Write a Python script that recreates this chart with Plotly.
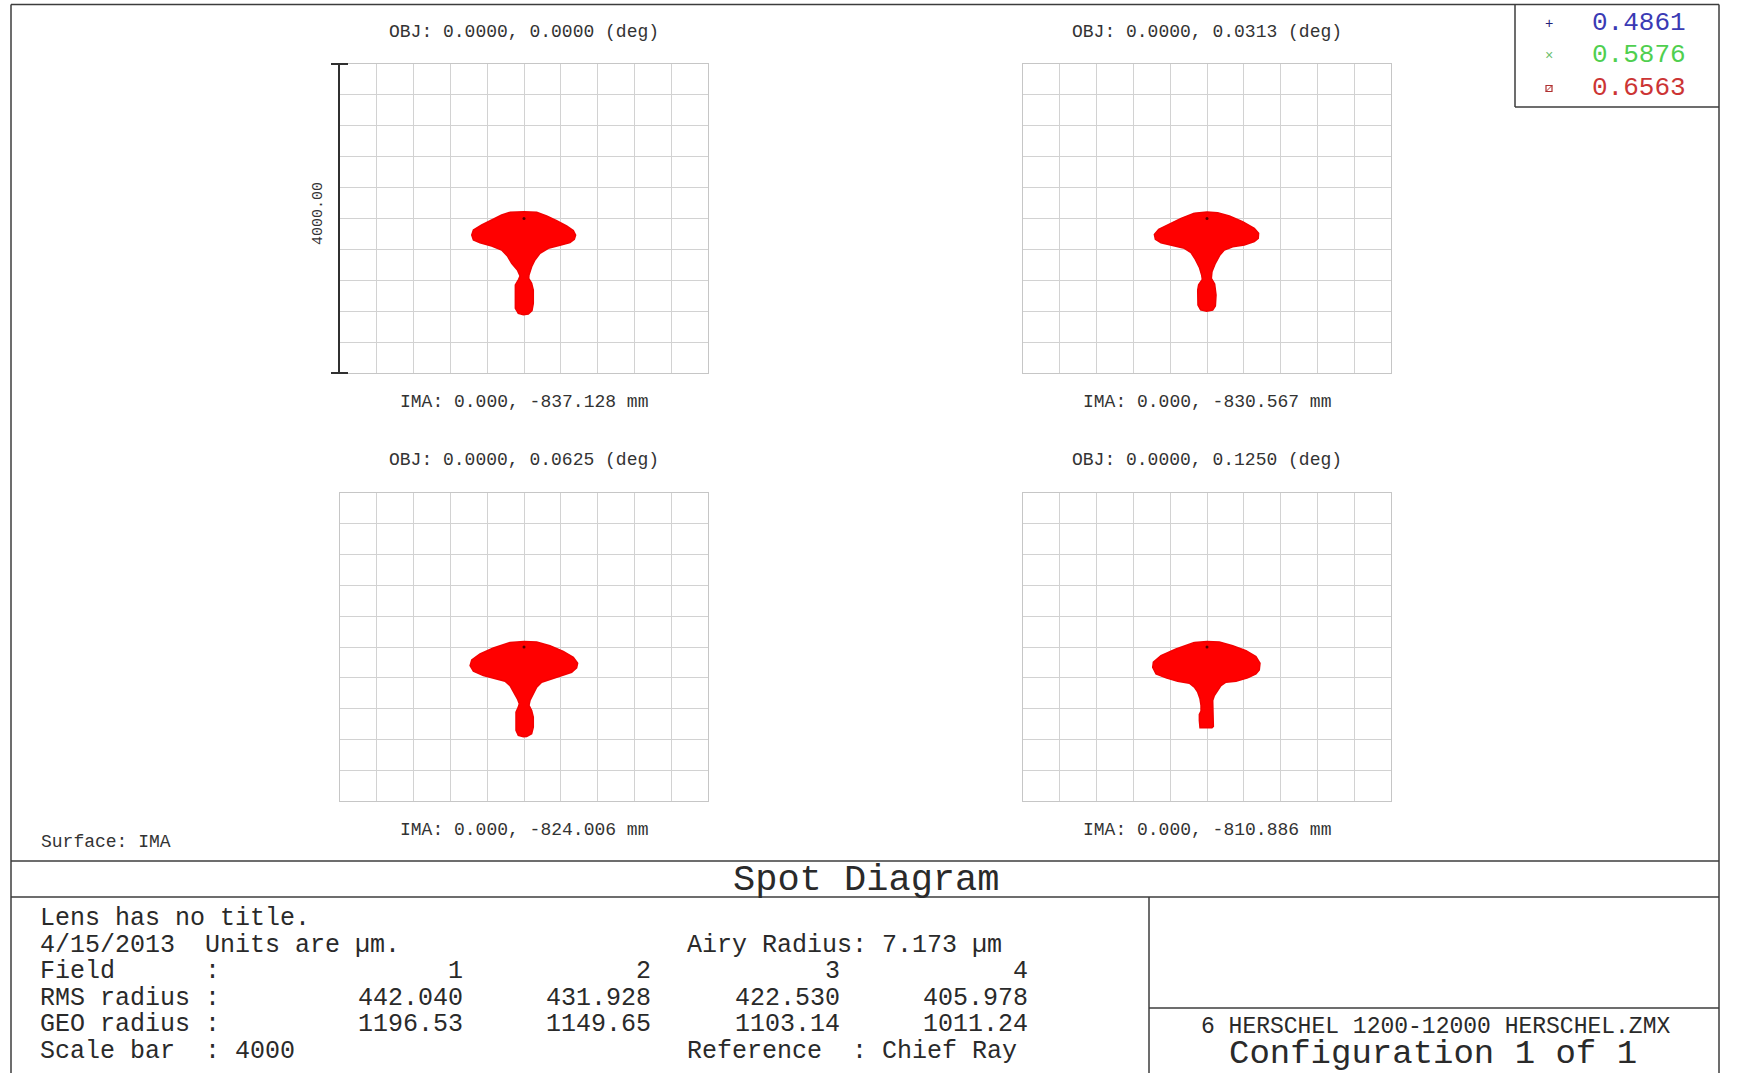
import plotly.graph_objects as go

# ---------------------------------------------------------------------------
# Spot diagram data (image-plane coordinates in micrometres, relative to the
# chief ray).  Each spot is drawn as the filled outline of its ray cloud.
# ---------------------------------------------------------------------------
FIELD_NUMBERS = ["1", "2", "3", "4"]
OBJ_LABELS = [
    "OBJ: 0.0000, 0.0000 (deg)",
    "OBJ: 0.0000, 0.0313 (deg)",
    "OBJ: 0.0000, 0.0625 (deg)",
    "OBJ: 0.0000, 0.1250 (deg)",
]
IMA_LABELS = [
    "IMA: 0.000, -837.128 mm",
    "IMA: 0.000, -830.567 mm",
    "IMA: 0.000, -824.006 mm",
    "IMA: 0.000, -810.886 mm",
]
RMS_RADIUS = ["442.040", "431.928", "422.530", "405.978"]
GEO_RADIUS = ["1196.53", "1149.65", "1103.14", "1011.24"]
WAVELENGTHS = ["0.4861", "0.5876", "0.6563"]
SCALE_BAR = 4000

FIELD1_X = [-152, 0, 138, 246, 355, 463, 536, 561, 547, 500, 391, 264, 174, 119,
            83, 54, 51, 83, 101, 101, 87, 47, -7, -62, -94, -98, -94, -58, -43,
            -72, -134, -181, -243, -351, -478, -550, -568, -550, -460, -351, -243]
FIELD1_Y = [80, 88, 80, 32, -28, -97, -157, -214, -270, -313, -347, -386, -451,
            -537, -624, -731, -775, -839, -926, -1098, -1193, -1236, -1245,
            -1228, -1163, -1012, -861, -788, -744, -667, -580, -485, -408, -356,
            -313, -278, -214, -149, -84, -19, 45]

FIELD2_X = [-138, 0, 116, 243, 387, 514, 561, 557, 514, 405, 279, 188, 141, 91,
            54, 47, 83, 98, 91, 62, -4, -69, -98, -101, -91, -51, -58, -83, -127,
            -174, -246, -373, -500, -561, -572, -525, -416, -282]
FIELD2_Y = [67, 84, 76, 32, -41, -127, -192, -257, -300, -343, -365, -408, -472,
            -580, -688, -775, -848, -990, -1133, -1184, -1202, -1184, -1120,
            -926, -857, -788, -731, -632, -529, -442, -386, -347, -313, -270,
            -205, -140, -72, 2]

FIELD3_X = [-152, 0, 138, 282, 427, 536, 583, 572, 518, 409, 282, 192, 138, 101,
            65, 54, 83, 101, 101, 83, 29, -7, -62, -87, -91, -87, -62, -51, -72,
            -116, -152, -206, -315, -442, -550, -586, -568, -478, -333]
FIELD3_Y = [60, 73, 65, 17, -56, -134, -211, -272, -328, -371, -414, -457, -522,
            -608, -695, -759, -824, -910, -1040, -1126, -1161, -1165, -1148,
            -1083, -954, -846, -781, -738, -673, -587, -501, -444, -414, -371,
            -315, -242, -168, -91, -13]

FIELD4_X = [-138, 0, 134, 279, 424, 532, 576, 568, 532, 442, 315, 206, 152, 116,
            80, 62, 62, 69, 69, 54, -76, -83, -83, -65, -65, -76, -101, -138,
            -192, -319, -445, -554, -590, -583, -500, -337]
FIELD4_Y = [60, 73, 65, 17, -47, -125, -211, -298, -350, -401, -444, -457, -501,
            -565, -630, -695, -759, -867, -1031, -1049, -1049, -954, -876, -833,
            -759, -673, -587, -522, -470, -444, -401, -350, -263, -198, -112, -26]

SPOTS = [(FIELD1_X, FIELD1_Y), (FIELD2_X, FIELD2_Y),
         (FIELD3_X, FIELD3_Y), (FIELD4_X, FIELD4_Y)]

# ---------------------------------------------------------------------------
# Page geometry (pixels) and helpers
# ---------------------------------------------------------------------------
W, H = 1742, 1073
MONO = "Liberation Mono"
INK = "#2a2a2a"
FRAME = "#3c3c3c"


def px(x):
    return x / W


def py(y):
    return 1 - y / H


# plot boxes: (left, right, top, bottom) in pixels
BOXES = [(340, 708, 64, 373), (1023, 1391, 64, 373),
         (340, 708, 493, 801), (1023, 1391, 493, 801)]
OBJ_Y = [32, 32, 460, 460]
IMA_Y = [402, 402, 830, 830]

fig = go.Figure()
layout_axes = {}
half = SCALE_BAR / 2

for i, ((xs, ys), (l, r, t, b)) in enumerate(zip(SPOTS, BOXES)):
    n = "" if i == 0 else str(i + 1)
    fig.add_trace(go.Scatter(
        x=xs + [xs[0]], y=ys + [ys[0]], mode="lines", fill="toself",
        fillcolor="#ff0000", line=dict(color="#f20000", width=1.5),
        xaxis="x" + n, yaxis="y" + n, hoverinfo="skip"))
    # chief ray
    fig.add_trace(go.Scatter(
        x=[0], y=[0], mode="markers",
        marker=dict(size=3, color="#5a0000"),
        xaxis="x" + n, yaxis="y" + n, hoverinfo="skip"))
    common = dict(range=[-half, half], tick0=-half, dtick=SCALE_BAR / 10,
                  showgrid=True, gridcolor="#d2d2d2", gridwidth=1,
                  zeroline=False, showline=True, linecolor="#c6c6c6",
                  linewidth=1, mirror=True, showticklabels=False, ticks="",
                  fixedrange=True)
    layout_axes["xaxis" + n] = dict(common, domain=[px(l), px(r)],
                                    anchor="y" + n)
    layout_axes["yaxis" + n] = dict(common, domain=[py(b), py(t)],
                                    anchor="x" + n)

fig.update_layout(**layout_axes)

annotations = []
shapes = []


def text(x, y, s, size, xanchor="left", color=INK, angle=0, family=MONO):
    annotations.append(dict(
        x=px(x), y=py(y), xref="paper", yref="paper", text=s,
        showarrow=False, xanchor=xanchor, yanchor="middle", textangle=angle,
        borderpad=0, font=dict(family=family, size=size, color=color)))


def line(x0, y0, x1, y1, color=FRAME, width=1.5):
    shapes.append(dict(type="line", xref="paper", yref="paper",
                       x0=px(x0), y0=py(y0), x1=px(x1), y1=py(y1),
                       line=dict(color=color, width=width)))


# field titles
for (l, r, t, b), oy, iy, obj, ima in zip(BOXES, OBJ_Y, IMA_Y,
                                          OBJ_LABELS, IMA_LABELS):
    cx = (l + r) / 2
    text(cx, oy, obj, 18, "center", "#333333")
    text(cx, iy, ima, 18, "center", "#333333")

# scale bar on the first field
line(339, 64, 339, 373, "#303030", 2)
line(331, 64, 348, 64, "#303030", 2)
line(331, 373, 348, 373, "#303030", 2)
text(318, 214, f"{SCALE_BAR:.2f}", 15, "center", "#333333", angle=-90)

text(40, 842, "Surface: IMA", 18, "left", "#333333")

# frame and panels
line(11, 4.5, 1719, 4.5)
line(11, 4.5, 11, 1073)
line(1719, 4.5, 1719, 1073)
line(1515, 4.5, 1515, 107)
line(1515, 107, 1719, 107)
line(11, 861, 1719, 861)
line(11, 897, 1719, 897)
line(1149, 897, 1149, 1073)
line(1149, 1008, 1719, 1008)

# wavelength key
KEY_COLORS = ["#3a3ab4", "#4fcf4f", "#cc3434"]
KEY_Y = [23, 55.5, 88]
for wl, c, ky in zip(WAVELENGTHS, KEY_COLORS, KEY_Y):
    text(1591, ky, wl, 26, "left", c)
text(1549, KEY_Y[0] + 1, "+", 14, "center", "#22227a")
text(1549, KEY_Y[1] + 1, "×", 14, "center", "#6cc06c")
shapes.append(dict(type="rect", xref="paper", yref="paper",
                   x0=px(1546), x1=px(1552), y0=py(91.5), y1=py(85.5),
                   line=dict(color="#b03030", width=1.2)))
line(1546, 91.5, 1552, 85.5, "#b03030", 1)

# title band
text(866, 880, "Spot Diagram", 37, "center", INK)

# summary text block
BLOCK = 25
ROWS = [918, 945, 971, 998, 1024, 1051]
text(39, ROWS[0], "Lens has no title.", BLOCK)
text(39, ROWS[1], "4/15/2013  Units are µm.", BLOCK)
text(686, ROWS[1], "Airy Radius: 7.173 µm", BLOCK)
text(39, ROWS[2], "Field      :", BLOCK)
text(39, ROWS[3], "RMS radius :", BLOCK)
text(39, ROWS[4], "GEO radius :", BLOCK)
text(39, ROWS[5], f"Scale bar  : {SCALE_BAR}", BLOCK)
text(686, ROWS[5], "Reference  : Chief Ray", BLOCK)
COL_RIGHT = [464, 652, 841, 1029]
for xr, fld, rms, geo in zip(COL_RIGHT, FIELD_NUMBERS, RMS_RADIUS, GEO_RADIUS):
    text(xr, ROWS[2], fld, BLOCK, "right")
    text(xr, ROWS[3], rms, BLOCK, "right")
    text(xr, ROWS[4], geo, BLOCK, "right")

# file / configuration panel
text(1435, 1027, "6 HERSCHEL 1200-12000 HERSCHEL.ZMX", 23, "center", INK)
text(1433, 1054, "Configuration 1 of 1", 34, "center", INK)

fig.update_layout(
    width=W, height=H, margin=dict(l=0, r=0, t=0, b=0),
    paper_bgcolor="white", plot_bgcolor="white", showlegend=False,
    annotations=annotations, shapes=shapes)

fig.write_html("out.html")
